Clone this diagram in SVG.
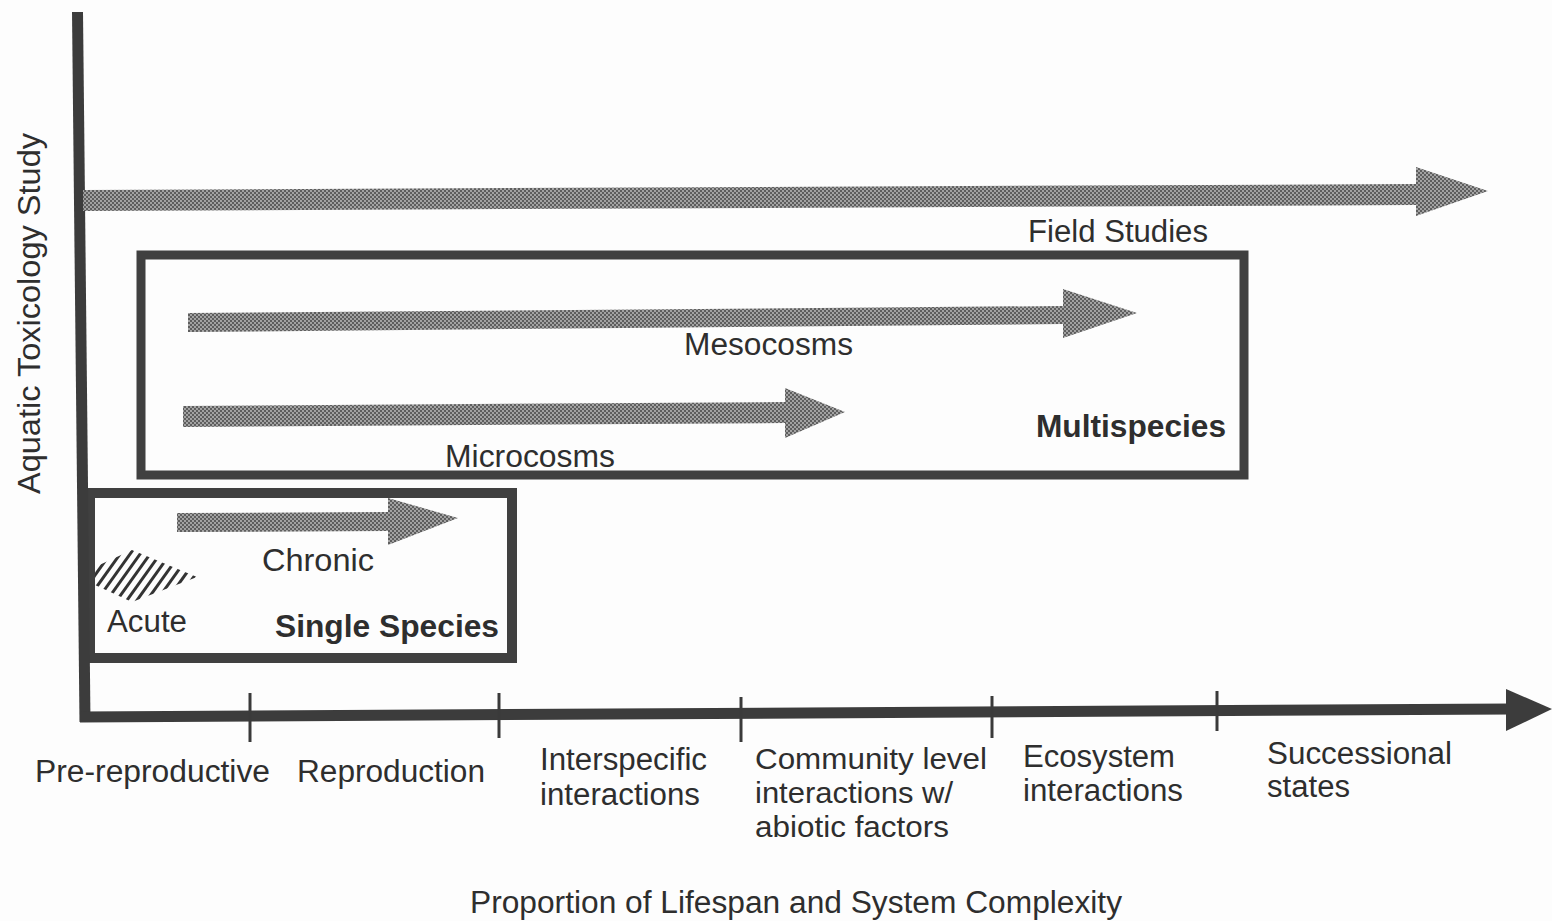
<svg xmlns="http://www.w3.org/2000/svg" width="1552" height="921" viewBox="0 0 1552 921">
<defs>
<pattern id="halftone" width="4" height="4" patternUnits="userSpaceOnUse">
<rect width="4" height="4" fill="#5e5e5e"/>
<circle cx="1" cy="1" r="0.9" fill="#c4c4c4"/>
<circle cx="3" cy="3" r="0.9" fill="#c4c4c4"/>
</pattern>
<clipPath id="acuteClip">
<polygon points="95,567 132,550 197,577 132,602 95,585"/>
</clipPath>
<style>
.t{font-family:"Liberation Sans",Arial,Helvetica,sans-serif;font-size:31px;fill:#2e2e2e}
.s{font-size:29px}
.b{font-weight:bold}
.box{fill:none;stroke:#404040}
.ax{stroke:#3c3c3c;fill:none}
.tick{stroke:#3a3a3a;stroke-width:3}
.range{fill:url(#halftone)}
.hatch{stroke:#333;stroke-width:3}
</style>
</defs>
<rect width="1552" height="921" fill="#fdfdfd"/>

<g id="multispecies-box">
<rect class="box" x="141" y="255" width="1103" height="220" stroke-width="9"/>
<text class="t b" x="1036" y="437" textLength="190" lengthAdjust="spacingAndGlyphs">Multispecies</text>
</g>

<g id="single-species-box">
<rect class="box" x="90" y="493" width="422" height="165" stroke-width="10"/>
<text class="t b" x="275" y="637" textLength="224" lengthAdjust="spacingAndGlyphs">Single Species</text>
</g>

<g id="axes">
<line class="ax" x1="77.5" y1="12" x2="85" y2="722" stroke-width="11"/>
<line class="ax" x1="80" y1="717" x2="1512" y2="709" stroke-width="11"/>
<polygon points="1506,689 1552,709 1506,731" fill="#3c3c3c"/>
<line class="tick" x1="250" y1="693" x2="250" y2="742"/>
<line class="tick" x1="499" y1="693" x2="499" y2="738"/>
<line class="tick" x1="741" y1="697" x2="741" y2="742"/>
<line class="tick" x1="992" y1="696" x2="992" y2="738"/>
<line class="tick" x1="1217" y1="691" x2="1217" y2="731"/>
</g>

<g id="connectors">
<polygon id="field-arrow" class="range" points="83,190 1416,184 1416,167 1488,191 1416,216 1416,205 83,211"/>
<polygon id="meso-arrow" class="range" points="188,313 1063,306 1063,289 1137,313 1063,338 1063,324 188,332"/>
<polygon id="micro-arrow" class="range" points="183,406 785,402 785,388 845,412 785,438 785,423 183,427"/>
<polygon id="chronic-arrow" class="range" points="177,513 388,512 388,498 458,518 388,545 388,531 177,532"/>
</g>

<g id="acute">
<g clip-path="url(#acuteClip)">
<line class="hatch" x1="50" y1="610" x2="93" y2="550"/>
<line class="hatch" x1="60" y1="610" x2="103" y2="550"/>
<line class="hatch" x1="70" y1="610" x2="113" y2="550"/>
<line class="hatch" x1="80" y1="610" x2="123" y2="550"/>
<line class="hatch" x1="90" y1="610" x2="133" y2="550"/>
<line class="hatch" x1="100" y1="610" x2="143" y2="550"/>
<line class="hatch" x1="110" y1="610" x2="153" y2="550"/>
<line class="hatch" x1="120" y1="610" x2="163" y2="550"/>
<line class="hatch" x1="130" y1="610" x2="173" y2="550"/>
<line class="hatch" x1="140" y1="610" x2="183" y2="550"/>
<line class="hatch" x1="150" y1="610" x2="193" y2="550"/>
<line class="hatch" x1="160" y1="610" x2="203" y2="550"/>
<line class="hatch" x1="170" y1="610" x2="213" y2="550"/>
</g>
<text class="t" x="107" y="632" textLength="80" lengthAdjust="spacingAndGlyphs">Acute</text>
</g>

<g id="labels-ranges">
<text class="t" x="1028" y="242" textLength="180" lengthAdjust="spacingAndGlyphs">Field Studies</text>
<text class="t" x="684" y="355" textLength="169" lengthAdjust="spacingAndGlyphs">Mesocosms</text>
<text class="t" x="445" y="467" textLength="170" lengthAdjust="spacingAndGlyphs">Microcosms</text>
<text class="t" x="262" y="571" textLength="112" lengthAdjust="spacingAndGlyphs">Chronic</text>
</g>

<g id="y-axis-title">
<text class="t" transform="translate(40,494) rotate(-90)" x="0" y="0" textLength="361" lengthAdjust="spacingAndGlyphs">Aquatic Toxicology Study</text>
</g>

<g id="x-axis-labels">
<text class="t" x="35" y="782" textLength="235" lengthAdjust="spacingAndGlyphs">Pre-reproductive</text>
<text class="t" x="297" y="782" textLength="188" lengthAdjust="spacingAndGlyphs">Reproduction</text>
<text class="t" x="540" y="770" textLength="167" lengthAdjust="spacingAndGlyphs">Interspecific</text>
<text class="t" x="540" y="805" textLength="160" lengthAdjust="spacingAndGlyphs">interactions</text>
<text class="t s" x="755" y="769" textLength="232" lengthAdjust="spacingAndGlyphs">Community level</text>
<text class="t s" x="755" y="803" textLength="198" lengthAdjust="spacingAndGlyphs">interactions w/</text>
<text class="t s" x="755" y="837" textLength="194" lengthAdjust="spacingAndGlyphs">abiotic factors</text>
<text class="t" x="1023" y="767" textLength="152" lengthAdjust="spacingAndGlyphs">Ecosystem</text>
<text class="t" x="1023" y="801" textLength="160" lengthAdjust="spacingAndGlyphs">interactions</text>
<text class="t" x="1267" y="764" textLength="185" lengthAdjust="spacingAndGlyphs">Successional</text>
<text class="t" x="1267" y="797" textLength="83" lengthAdjust="spacingAndGlyphs">states</text>
<text class="t" x="470" y="913" textLength="652" lengthAdjust="spacingAndGlyphs">Proportion of Lifespan and System Complexity</text>
</g>
</svg>
